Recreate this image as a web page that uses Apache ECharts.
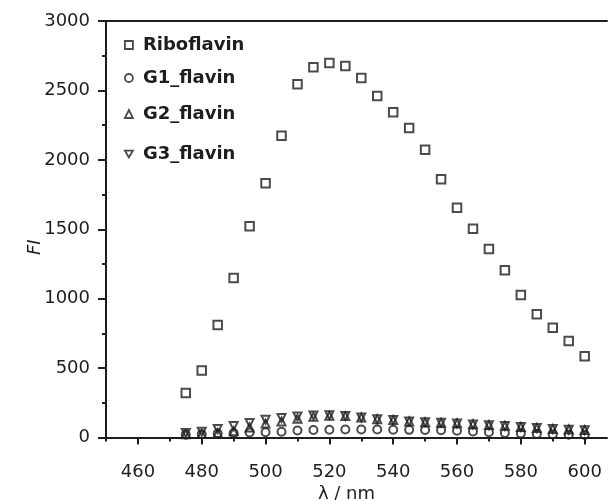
<!DOCTYPE html>
<html><head><meta charset="utf-8">
<script src="https://cdn.jsdelivr.net/npm/echarts@6/dist/echarts.min.js"></script>
<style>html,body{margin:0;padding:0;background:#fff}#c{width:608px;height:500px}</style>
</head><body><div id="c"></div>
<script>
var wavelengths = [475,480,485,490,495,500,505,510,515,520,525,530,535,540,545,550,555,560,565,570,575,580,585,590,595,600];
var riboflavin = [321,482,811,1148,1522,1832,2173,2545,2667,2698,2675,2590,2460,2343,2230,2072,1861,1655,1503,1357,1204,1026,887,791,695,585];
var g1Flavin = [20,24,28,32,36,38,42,50,54,56,57,57,57,56,55,54,53,49,44,38,32,28,25,22,20,18];
var g2Flavin = [24,26,32,45,72,100,115,135,150,156,154,144,132,126,116,110,106,102,96,90,84,76,68,62,58,54];
var g3Flavin = [32,42,62,82,105,128,140,152,158,160,155,144,132,126,116,110,106,100,94,88,82,76,68,62,56,52];
var xMajorTicks = [460,480,500,520,540,560,580,600];
var xMinorTicks = [450,470,490,510,530,550,570,590];
var seriesNames = ['Riboflavin','G1_flavin','G2_flavin','G3_flavin'];

function pairs(ys){ return wavelengths.map(function(x,i){ return [x, ys[i]]; }); }

var FONT = 'DejaVu Sans';
var INK = '#1e1e1e';
var DOWN_TRI = 'path://M0,0 L10,0 L5,8.66 Z';
var markerStyle = {color: 'rgba(255,255,255,0)', borderColor: INK, borderWidth: 2};

function mkLegend(name, top){
  return {
    data: [name], left: 119, top: top, itemWidth: 8, itemHeight: 8,
    itemStyle: {color: 'rgba(255,255,255,0)', borderColor: INK, borderWidth: 1.8},
    textStyle: {fontFamily: FONT, fontWeight: 'bold', fontSize: 18, color: INK, padding: [0,0,0,5]},
    selectedMode: false
  };
}

var chart = echarts.init(document.getElementById('c'), null, {renderer: 'canvas'});
chart.setOption({
  animation: false,
  backgroundColor: '#fff',
  grid: {left: 106, top: 21, right: 1, bottom: 62.5, containLabel: false, outerBoundsMode: 'none'},
  legend: [
    mkLegend(seriesNames[0], 31),
    mkLegend(seriesNames[1], 64),
    mkLegend(seriesNames[2], 100),
    mkLegend(seriesNames[3], 140)
  ],
  xAxis: [
    {
      type: 'value', min: 450, max: 607, position: 'bottom',
      axisLine: {show: true, onZero: false, lineStyle: {color: INK, width: 2}},
      axisTick: {show: true, inside: false, length: 7, customValues: xMajorTicks, lineStyle: {color: INK, width: 2}},
      axisLabel: {show: true, customValues: xMajorTicks, margin: 26, fontFamily: FONT, fontSize: 18, color: INK,
        showMinLabel: true, showMaxLabel: true},
      splitLine: {show: false},
      name: 'λ / nm', nameLocation: 'middle', nameGap: 48, nameMoveOverlap: false,
      nameTextStyle: {fontFamily: FONT, fontSize: 18, color: INK, padding: [0, 20, 0, 0]}
    },
    {
      type: 'value', min: 450, max: 607, position: 'bottom',
      axisLine: {show: false, onZero: false},
      axisTick: {show: true, inside: false, length: 4, customValues: xMinorTicks, lineStyle: {color: INK, width: 2}},
      axisLabel: {show: false},
      splitLine: {show: false}
    },
    {
      type: 'value', min: 450, max: 607, position: 'top',
      axisLine: {show: true, onZero: false, lineStyle: {color: INK, width: 2}},
      axisTick: {show: false}, axisLabel: {show: false}, splitLine: {show: false}
    }
  ],
  yAxis: {
    type: 'value', min: 0, max: 3000, interval: 500,
    axisLine: {show: true, onZero: false, lineStyle: {color: INK, width: 2}},
    axisTick: {show: true, inside: false, length: 8, lineStyle: {color: INK, width: 2}},
    minorTick: {show: true, splitNumber: 2, length: 4, lineStyle: {color: INK, width: 2}},
    axisLabel: {margin: 16, fontFamily: FONT, fontSize: 18, color: INK, formatter: function(v){ return String(v); }},
    splitLine: {show: false},
    name: 'FI', nameLocation: 'middle', nameGap: 62, nameRotate: 90, nameMoveOverlap: false,
    nameTextStyle: {fontFamily: FONT, fontStyle: 'italic', fontSize: 18, color: INK, padding: [0, 36, 0, 0]}
  },
  series: [
    {name: seriesNames[0], type: 'scatter', data: pairs(riboflavin), symbol: 'rect', symbolSize: 8.5, itemStyle: markerStyle, z: 5},
    {name: seriesNames[1], type: 'scatter', data: pairs(g1Flavin), symbol: 'circle', symbolSize: 8, itemStyle: markerStyle, z: 4},
    {name: seriesNames[2], type: 'scatter', data: pairs(g2Flavin), symbol: 'triangle', symbolSize: 8, itemStyle: markerStyle, z: 3},
    {name: seriesNames[3], type: 'scatter', data: pairs(g3Flavin), symbol: DOWN_TRI, symbolSize: 8, itemStyle: markerStyle, z: 3}
  ]
});
</script>
</body></html>
